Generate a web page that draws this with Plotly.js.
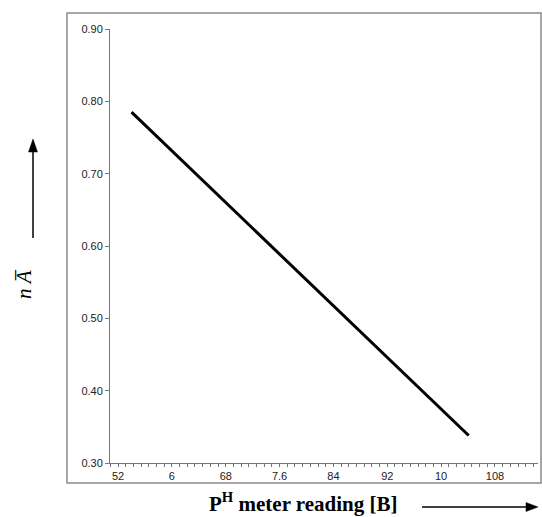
<!DOCTYPE html>
<html>
<head>
<meta charset="utf-8">
<script src="https://cdn.plot.ly/plotly-3.0.1.min.js"></script>
<style>html,body{margin:0;padding:0;background:#fff;}#chart{width:542px;height:517px;}</style>
</head>
<body>
<div id="chart"></div>
<script>
// Data
const phReading = [5.4, 10.41];
const nBarA = [0.785, 0.338];
const xTickVals = [5.2, 6.0, 6.8, 7.6, 8.4, 9.2, 10.0, 10.8];
const xTickText = ['52', '6', '68', '7.6', '84', '92', '10', '108'];
const yTickVals = [0.30, 0.40, 0.50, 0.60, 0.70, 0.80, 0.90];
const yTickText = ['0.30', '0.40', '0.50', '0.60', '0.70', '0.80', '0.90'];

// plot area geometry (pixels) used for decorations outside the axes
const L = 110, T = 29, W = 428, H = 434;
const px = v => (v - L) / W;
const py = v => (T + H - v) / H;

const trace = {
  x: phReading, y: nBarA, type: 'scatter', mode: 'lines',
  line: {color: '#000', width: 3}, hoverinfo: 'skip', showlegend: false
};

const tickFont = {family: 'Liberation Sans, Arial, sans-serif', size: 11, color: '#222'};

const layout = {
  width: 542, height: 517,
  margin: {l: L, r: 542 - L - W, t: T, b: 517 - T - H},
  paper_bgcolor: '#fff', plot_bgcolor: '#fff',
  xaxis: {
    range: [5.08, 11.44], tickmode: 'array', tickvals: xTickVals, ticktext: xTickText,
    showgrid: false, zeroline: false, showline: true, linecolor: '#777', linewidth: 1,
    ticks: 'outside', ticklen: 3, tickcolor: '#777', tickwidth: 1,
    minor: {tickmode: 'linear', tick0: 5.2, dtick: 0.8/7, ticks: 'outside', ticklen: 3, tickcolor: '#777', showgrid: false},
    tickfont: tickFont, fixedrange: true
  },
  yaxis: {
    range: [0.30, 0.90], tickmode: 'array', tickvals: yTickVals, ticktext: yTickText,
    showgrid: false, zeroline: false, showline: true, linecolor: '#777', linewidth: 1,
    ticks: 'outside', ticklen: 4, tickcolor: '#777', tickwidth: 1,
    tickfont: tickFont, fixedrange: true
  },
  shapes: [
    {type: 'rect', xref: 'paper', yref: 'paper', x0: px(67), x1: px(541), y0: py(483), y1: py(13),
     line: {color: '#8a8a8a', width: 1.5}, fillcolor: 'rgba(0,0,0,0)', layer: 'below'},
    // right arrow
    {type: 'line', xref: 'paper', yref: 'paper', x0: px(422), x1: px(528), y0: py(507), y1: py(507),
     line: {color: '#000', width: 1.5}},
    {type: 'path', xref: 'paper', yref: 'paper',
     path: `M ${px(538)},${py(507)} L ${px(526)},${py(502.5)} L ${px(526)},${py(511.5)} Z`,
     fillcolor: '#000', line: {color: '#000', width: 0.5}},
    // up arrow
    {type: 'line', xref: 'paper', yref: 'paper', x0: px(33), x1: px(33), y0: py(238), y1: py(150),
     line: {color: '#000', width: 1.5}},
    {type: 'path', xref: 'paper', yref: 'paper',
     path: `M ${px(33)},${py(139)} L ${px(28.5)},${py(152)} L ${px(37.5)},${py(152)} Z`,
     fillcolor: '#000', line: {color: '#000', width: 0.5}}
  ],
  annotations: [
    {
      text: '<b>P<sup>H</sup> meter reading [B]</b>', xref: 'paper', yref: 'paper',
      x: px(303), y: py(502), xanchor: 'center', yanchor: 'middle',
      showarrow: false, font: {family: 'Liberation Serif, Times New Roman, serif', size: 21, color: '#000'}
    },
    {
      text: '<i>n</i> <i>A\u0305</i>', xref: 'paper', yref: 'paper',
      x: px(24), y: py(284), xanchor: 'center', yanchor: 'middle',
      textangle: -90, showarrow: false,
      font: {family: 'Liberation Serif, Times New Roman, serif', size: 21, color: '#000'}
    }
  ]
};

Plotly.newPlot('chart', [trace], layout, {displayModeBar: false, staticPlot: true});
</script>
</body>
</html>
